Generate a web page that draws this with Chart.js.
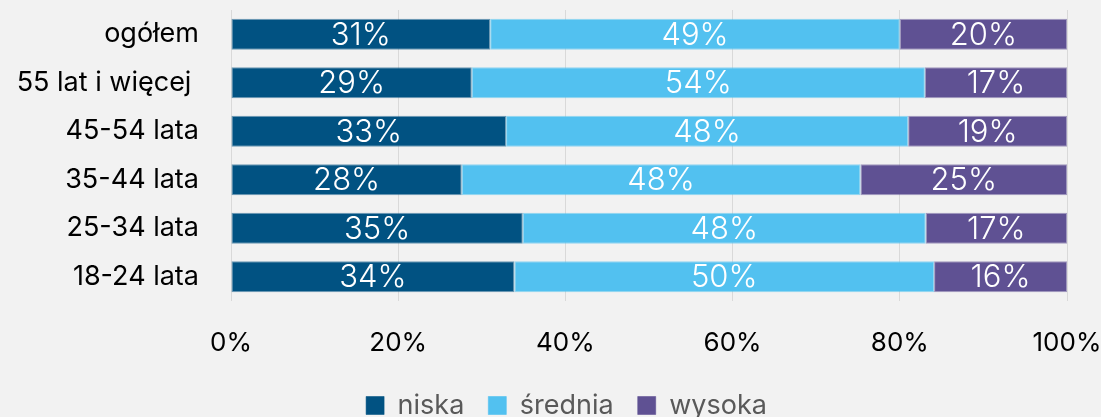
<!DOCTYPE html>
<html>
<head>
<meta charset="utf-8">
<script src="https://cdn.jsdelivr.net/npm/chart.js@4.4.1/dist/chart.umd.min.js"></script>
<style>
  html, body { margin: 0; padding: 0; background: #f2f2f2; overflow: hidden; }
  #wrap { width: 1101px; height: 417px; overflow: hidden; position: relative; }
  canvas { display: block; }
</style>
</head>
<body>
<div id="wrap"><canvas id="c" width="1101" height="429"></canvas></div>
<script>
const categories = ['ogółem', '55 lat i więcej ', '45-54 lata', '35-44 lata', '25-34 lata', '18-24 lata'];
const seriesNames = ['niska', 'średnia', 'wysoka'];
const niska   = [31.0, 28.8, 32.9, 27.6, 34.9, 33.9];
const srednia = [49.0, 54.2, 48.1, 47.7, 48.2, 50.2];
const wysoka  = [20.0, 17.0, 19.0, 24.7, 16.9, 15.9];
const xTicks = [0, 20, 40, 60, 80, 100];
const colors = ['#015282', '#52c1f0', '#5f5193'];
const edgeColors = ['rgba(1,82,130,0.55)', 'rgba(82,193,240,0.6)', 'rgba(95,81,147,0.55)'];

const FONT = 'Inter';

const dataLabels = {
  id: 'dataLabels',
  afterDatasetsDraw(chart) {
    const ctx = chart.ctx;
    ctx.save();
    ctx.fillStyle = '#ffffff';
    ctx.font = '300 31px ' + FONT;
    ctx.textAlign = 'center';
    ctx.textBaseline = 'middle';
    chart.data.datasets.forEach((ds, di) => {
      const meta = chart.getDatasetMeta(di);
      meta.data.forEach((el, i) => {
        const p = el.getProps(['x', 'y', 'base'], true);
        const cx = (p.x + p.base) / 2;
        ctx.fillText(Math.round(ds.data[i]) + '%', cx, p.y + 1);
      });
    });
    ctx.restore();
  }
};

const bg = {
  id: 'bg',
  beforeDraw(chart) {
    const ctx = chart.ctx;
    ctx.save();
    ctx.fillStyle = '#f2f2f2';
    ctx.fillRect(0, 0, chart.width, chart.height);
    ctx.restore();
  }
};

const legendShift = {
  id: 'legendShift',
  afterLayout(chart) {
    if (chart.legend) {
      chart.legend.left += 33;
      chart.legend.right += 33;
    }
  }
};

new Chart(document.getElementById('c'), {
  type: 'bar',
  data: {
    labels: categories,
    datasets: [niska, srednia, wysoka].map((d, i) => ({
      label: seriesNames[i],
      data: d,
      backgroundColor: colors[i],
      borderColor: edgeColors[i],
      borderWidth: 1,
      borderSkipped: false,
      barPercentage: 0.64,
      categoryPercentage: 1.0
    }))
  },
  options: {
    indexAxis: 'y',
    responsive: false,
    animation: false,
    devicePixelRatio: 1,
    layout: { padding: { top: 10, right: 34, left: 0, bottom: 0 } },
    scales: {
      x: {
        stacked: true,
        min: 0, max: 100,
        afterBuildTicks(scale) { scale.ticks = xTicks.map(v => ({ value: v })); },
        afterFit(scale) {
          scale.height = 67;
          scale.paddingLeft = 0; scale.paddingRight = 0;
          scale.paddingTop = 0; scale.paddingBottom = 0;
        },
        grid: { color: '#d9d9d9', lineWidth: 1, drawTicks: false },
        border: { display: false },
        ticks: {
          padding: 27,
          color: '#000000',
          font: { family: FONT, size: 26 },
          callback: v => v + '%'
        }
      },
      y: {
        stacked: true,
        afterFit(scale) {
          scale.width = 231;
          scale.paddingTop = 0; scale.paddingBottom = 0;
          scale.paddingLeft = 0; scale.paddingRight = 0;
        },
        grid: { display: false, drawTicks: false },
        border: { display: false },
        ticks: {
          padding: 32,
          color: '#000000',
          font: { family: FONT, size: 27 }
        }
      }
    },
    plugins: {
      legend: {
        position: 'bottom',
        labels: {
          boxWidth: 18, boxHeight: 18,
          padding: 24,
          color: '#595959',
          font: { family: FONT, size: 27 }
        }
      },
      tooltip: { enabled: false }
    }
  },
  plugins: [bg, legendShift, dataLabels]
});
</script>
</body>
</html>
